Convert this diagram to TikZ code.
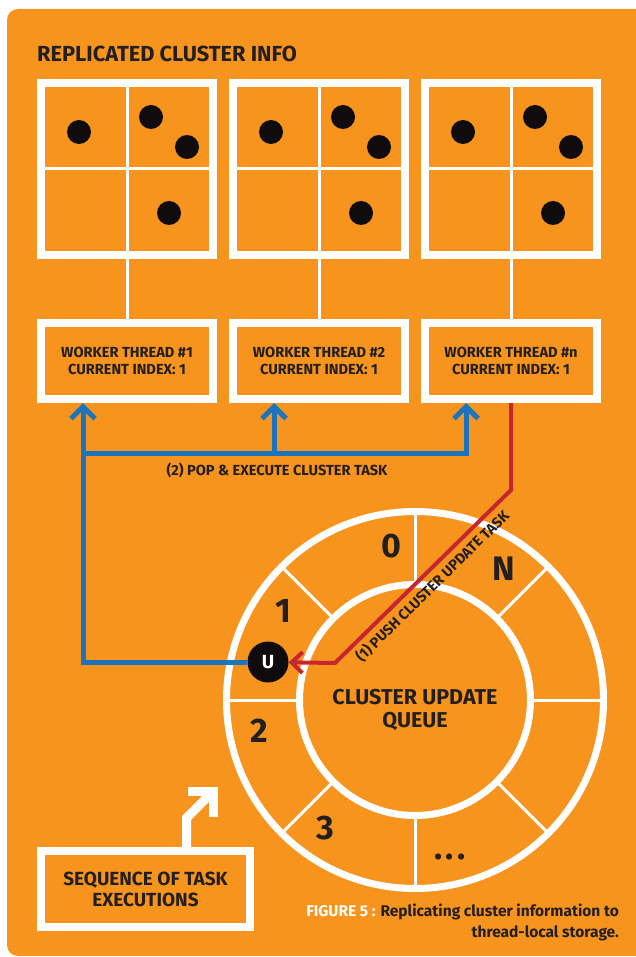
\documentclass[tikz,border=0pt]{standalone}
\usepackage{fontspec}
\setmainfont{Fira Sans}
\definecolor{panel}{HTML}{F7941E}
\definecolor{ink}{HTML}{231F20}
\definecolor{dot}{HTML}{100C0D}
\definecolor{popblue}{HTML}{1C75BC}
\definecolor{pushred}{HTML}{C8262F}
\usetikzlibrary{arrows.meta,calc}

\begin{document}
\begin{tikzpicture}[
    x=1pt, y=-1pt,
    font=\bfseries,
    txt/.style={text=ink, inner sep=0pt, align=center},
    sz/.style={font=\bfseries\fontsize{#1}{26}\selectfont},
    infobox/.style={draw=white, line width=8pt, inner sep=0pt,
                    minimum width=172pt, minimum height=172pt},
    worker/.style={txt, draw=white, line width=8pt,
                   minimum width=172pt, minimum height=76pt,
                   font=\bfseries\fontsize{14.6}{18}\selectfont},
    grid/.style={draw=white, line width=3pt},
    ring/.style={draw=white, line width=7pt},
    queue/.style={circle, ring, minimum size=231pt, inner sep=0pt},
    qtext/.style={txt, font=\bfseries\fontsize{21.5}{23}\selectfont},
    slot/.style={txt, font=\bfseries\fontsize{34}{34}\selectfont},
    ucirc/.style={circle, fill=dot, text=white, minimum size=41pt,
                  inner sep=0pt, font=\bfseries\fontsize{19}{19}\selectfont},
    lbl/.style={txt, font=\bfseries\fontsize{14.6}{16}\selectfont},
    seqbox/.style={txt, draw=white, line width=8pt,
                   minimum width=209pt, minimum height=76pt,
                   font=\bfseries\fontsize{19}{21}\selectfont},
    pop/.style={draw=popblue, line width=5pt,
                -{Straight Barb[sharp, length=12pt, width=24pt]}},
    push/.style={draw=pushred, line width=4pt,
                 -{Straight Barb[sharp, length=11pt, width=21pt]}},
    bent/.style={draw=white, line width=9pt,
                 -{Straight Barb[sharp, length=18pt, width=36pt]}},
  ]
    \useasboundingbox (0,0) rectangle (636,957);
    \fill[panel, rounded corners=11pt] (7,9) rectangle (648,956);
    % --- replicated cluster info --------------------------------------------
    \node[txt, anchor=west, sz=21.8] (title) at (37,54) {REPLICATED CLUSTER INFO};
    \foreach \i/\x/\n in {1/127/1, 2/319/2, 3/511/n} {
      \node[infobox] (info\i) at (\x,169) {};
      \draw[grid] (info\i.north) -- (info\i.south);
      \draw[grid] (info\i.west) -- (info\i.east);
      \foreach \dx/\dy in {-48/-37, 24/-52, 60/-22, 42/44}
        \fill[dot] ($(info\i)+(\dx,\dy)$) circle[radius=12pt];
      \node[worker] (wk\i) at (\x,361)
        {WORKER THREAD \#\n\\[-1pt]CURRENT INDEX: 1};
      \draw[grid] (info\i.south) -- (wk\i.north);
    }
    % --- queue ring -----------------------------------------------------------
    \node[queue] (queue) at (415,700) {};
    \node[qtext] (qlbl) at (415,710) {CLUSTER UPDATE\\QUEUE};
    \draw[ring] (queue.center) circle[radius=188.5pt];
    \foreach \a in {0,45,...,315}
      \draw[grid] ($(queue.center)+(\a:116)$) -- ($(queue.center)+(\a:188)$);
    \node[slot] (s0) at (391,546) {0};
    \node[slot] (sN) at (504,569) {N};
    \node[slot] (s1) at (283,611) {1};
    \node[slot] (s2) at (259,731) {2};
    \node[slot] (s3) at (325,828) {3};
    \node[slot] (sdots) at (450,857) {.\hspace{3pt}.\hspace{3pt}.};
    \node[ucirc] (u) at (268,662) {U};
    % --- pop & execute ----------------------------------------------------------
    \coordinate (bus) at (83,453);
    \draw[pop] (u) -| ([xshift=-44pt]wk1.south);
    \draw[pop] (bus) -| ([xshift=-45pt]wk3.south);
    \draw[pop] ([xshift=-45pt]wk2.south |- bus) -- ([xshift=-45pt]wk2.south);
    \node[lbl] (poplbl) at (277,470) {(2) POP \& EXECUTE CLUSTER TASK};
    % --- push ---------------------------------------------------------------------
    \draw[push] (wk3.south) -- ++(0,87) -- (335,663)
          node[lbl, sloped, midway, below=4pt] (pushlbl) {(1) PUSH CLUSTER UPDATE TASK}
          -- (u);
    % --- sequence ---------------------------------------------------------------
    \node[seqbox] (seq) at (145.5,889) {SEQUENCE OF TASK\\EXECUTIONS};
    \draw[bent] ([xshift=41pt]seq.north) -- ++(0,-29) -- ++(31,-31);
    \node[txt, anchor=east, align=right, font=\bfseries\fontsize{15.5}{21}\selectfont]
      (cap) at (619,922)
      {\textcolor{white}{FIGURE 5 :} Replicating cluster information to\\thread-local storage.};
  \end{tikzpicture}
\end{document}
